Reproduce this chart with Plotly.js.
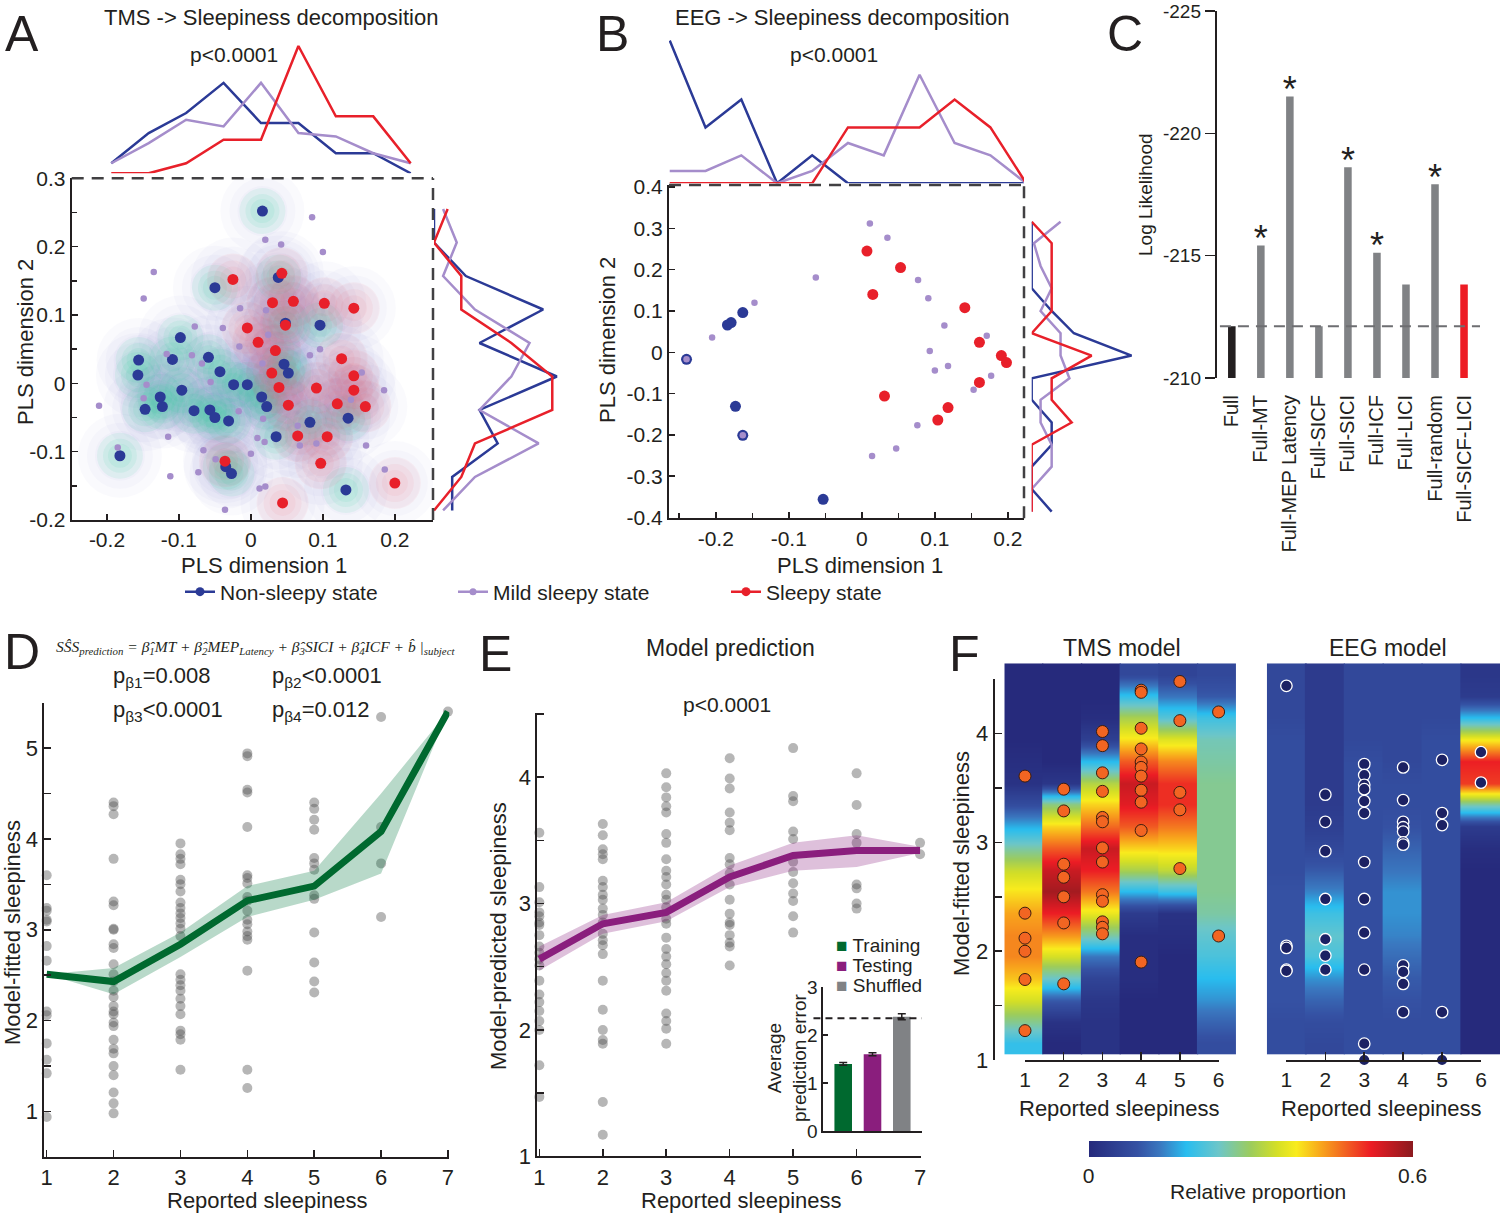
<!DOCTYPE html>
<html><head><meta charset="utf-8">
<script src="https://cdn.plot.ly/plotly-3.0.1.min.js"></script>
<style>html,body{margin:0;padding:0;background:#fff}#plot{width:1500px;height:1213px}</style>
</head><body><div id="plot"></div>
<script>
// ================= DATA =================
// Panel A: TMS PLS decomposition (dimension 1, dimension 2)
const aBlueX = [0.016,0.038,-0.050,-0.098,-0.156,-0.157,-0.109,-0.059,-0.043,-0.147,-0.123,-0.126,-0.096,-0.079,-0.057,-0.050,-0.031,-0.024,-0.005,0.015,0.022,0.048,0.096,0.046,0.052,0.035,0.082,0.135,-0.182,-0.035,-0.027,0.132];
const aBlueY = [0.252,0.155,0.140,0.067,0.034,0.012,0.035,0.038,0.017,-0.038,-0.034,-0.020,-0.010,-0.040,-0.039,-0.050,-0.055,-0.002,-0.002,-0.020,-0.034,0.088,0.085,0.028,0.015,-0.078,-0.057,-0.051,-0.106,-0.122,-0.132,-0.156];
const aRedX = [-0.025,0.043,0.030,0.059,0.102,0.143,-0.005,0.048,0.010,0.034,0.126,0.143,0.029,0.039,0.091,0.143,0.120,0.159,0.052,0.065,0.106,-0.036,0.097,0.200,0.044];
const aRedY = [0.152,0.161,0.118,0.120,0.117,0.110,0.081,0.085,0.060,0.048,0.036,0.011,0.015,-0.006,-0.007,-0.010,-0.030,-0.034,-0.032,-0.077,-0.078,-0.114,-0.117,-0.146,-0.175];
const aMildX = [0.085,0.020,0.042,0.100,-0.135,-0.149,-0.015,0.021,-0.078,-0.039,0.024,-0.016,0.096,0.082,-0.117,-0.082,-0.068,0.016,0.154,-0.056,-0.145,-0.149,0.185,0.139,-0.211,-0.017,0.017,0.065,-0.115,0.009,0.019,0.091,0.068,0.160,-0.185,-0.066,0.000,-0.049,-0.073,-0.112,0.186,0.012,0.020,-0.036];
const aMildY = [0.243,0.210,0.203,0.192,0.163,0.124,0.110,0.107,0.083,0.081,0.071,0.054,0.050,0.041,0.043,0.041,0.029,0.029,0.016,0.002,-0.002,-0.022,-0.010,-0.024,-0.033,-0.041,-0.052,-0.062,-0.078,-0.080,-0.086,-0.088,-0.091,-0.091,-0.094,-0.098,-0.103,-0.111,-0.130,-0.136,-0.126,-0.154,-0.151,-0.185];
// Panel A marginal distributions (proportions)
const aTopBins = [-0.194,-0.142,-0.090,-0.038,0.014,0.066,0.118,0.170,0.222];
const aTopBlue = [0.03,0.12,0.18,0.27,0.15,0.15,0.06,0.06,0.00];
const aTopMild = [0.03,0.09,0.16,0.14,0.27,0.12,0.11,0.06,0.03];
const aTopSleepy = [0.00,0.00,0.03,0.10,0.10,0.38,0.17,0.17,0.03];
const aRightBins = [0.255,0.206,0.157,0.108,0.059,0.010,-0.039,-0.088,-0.137,-0.186];
const aRightBlue = [0.00,0.00,0.07,0.24,0.10,0.27,0.10,0.14,0.04,0.04];
const aRightMild = [0.02,0.05,0.02,0.09,0.21,0.17,0.10,0.23,0.09,0.02];
const aRightSleepy = [0.03,0.00,0.06,0.06,0.17,0.26,0.26,0.09,0.06,0.00];

// Panel B: EEG PLS decomposition
const bBlueX = [-0.240,-0.184,-0.179,-0.163,-0.173,-0.163,-0.053];
const bBlueY = [-0.017,0.066,0.072,0.096,-0.131,-0.201,-0.356];
const bRedX = [0.007,0.053,0.015,0.141,0.161,0.191,0.198,0.161,0.031,0.118,0.104];
const bRedY = [0.245,0.205,0.140,0.108,0.024,-0.008,-0.025,-0.073,-0.106,-0.134,-0.164];
const bMildX = [0.011,0.035,-0.063,0.077,0.091,-0.147,-0.205,0.113,0.171,0.093,0.100,0.118,0.177,0.153,0.076,0.047,0.014,-0.240,-0.163];
const bMildY = [0.312,0.277,0.181,0.175,0.131,0.120,0.036,0.065,0.040,0.003,-0.044,-0.033,-0.057,-0.091,-0.177,-0.233,-0.251,-0.017,-0.201];
const bTopBins = [-0.263,-0.214,-0.165,-0.116,-0.068,-0.019,0.030,0.079,0.127,0.176,0.225];
const bTopBlue = [0.46,0.18,0.27,0,0.09,0,0,0,0,0,0];
const bTopMild = [0.04,0.04,0.09,0,0.04,0.13,0.09,0.35,0.13,0.09,0];
const bTopSleepy = [0,0,0,0,0,0.18,0.18,0.18,0.27,0.18,0];
const bRightBins = [0.316,0.264,0.209,0.155,0.100,0.046,-0.008,-0.063,-0.115,-0.170,-0.224,-0.277,-0.331,-0.386];
const bRightBlue = [0,0,0,0,0.09,0.19,0.45,0,0,0.09,0.09,0,0,0.09];
const bRightMild = [0.13,0.01,0.04,0.09,0.04,0.13,0.13,0.17,0.04,0.04,0.09,0.09,0,0];
const bRightSleepy = [0,0.09,0.09,0.09,0.09,0,0.27,0.09,0.09,0.18,0,0,0,0];
const plsTickVals = [-0.4,-0.3,-0.2,-0.1,0,0.1,0.2,0.3,0.4];
const plsTickText = ['-0.4','-0.3','-0.2','-0.1','0','0.1','0.2','0.3','0.4'];
const legendNames = ['Non-sleepy state','Mild sleepy state','Sleepy state'];

// Panel C: model comparison
const cLabels = ['Full','Full-MT','Full-MEP Latency','Full-SICF','Full-SICI','Full-ICF','Full-LICI','Full-random','Full-SICF-LICI'];
const cLogLik = [-212.12,-215.42,-221.51,-212.12,-218.61,-215.12,-213.82,-217.92,-213.82];
const cSignificant = [false,true,true,false,true,true,false,true,false];
const cTickVals = [-225,-220,-215,-210];
const cTickText = ['-225','-220','-215','-210'];

// Panel D: model-fitted sleepiness per reported level
const dLevels = [1,2,3,4,5,6,7];
const dFitted = [
 [3.60,3.24,3.21,3.11,3.09,2.82,2.66,2.10,2.06,1.75,1.57,1.42,0.94],
 [4.40,4.36,4.27,3.78,3.31,3.27,3.01,3.00,2.84,2.80,2.62,2.51,2.43,2.33,2.26,2.16,2.10,2.07,1.98,1.94,1.79,1.69,1.64,1.50,1.40,1.21,1.09,0.98],
 [3.95,3.83,3.78,3.72,3.55,3.50,3.42,3.30,3.24,3.18,3.13,3.07,3.01,2.93,2.51,2.45,2.39,2.33,2.24,2.16,2.07,1.89,1.85,1.79,1.46],
 [4.94,4.91,4.54,4.51,4.13,3.60,3.57,3.51,3.36,3.32,3.21,3.11,3.06,2.98,2.93,2.89,2.55,1.46,1.26],
 [4.40,4.33,4.21,4.10,3.79,3.73,3.66,3.38,3.34,2.97,2.64,2.43,2.31],
 [5.34,4.13,3.73,3.14],
 [5.40]
];
const dMean = [2.51,2.43,2.84,3.32,3.48,4.08,5.40];
const dLow  = [2.51,2.29,2.70,3.14,3.33,3.62,5.40];
const dHigh = [2.51,2.58,2.97,3.48,3.65,4.50,5.40];

// Panel E: model-predicted sleepiness
const ePredicted = [
 [3.56,3.13,3.01,2.93,2.90,2.85,2.83,2.75,2.66,2.61,2.56,2.51,2.39,2.28,2.22,2.15,2.07,2.00,1.72,1.47],
 [3.63,3.54,3.43,3.39,3.35,3.18,3.13,3.07,3.03,2.96,2.91,2.85,2.76,2.71,2.67,2.60,2.39,2.16,2.00,1.92,1.89,1.43,1.17],
 [4.03,3.92,3.84,3.77,3.72,3.55,3.48,3.35,3.26,3.21,3.15,3.07,3.03,2.97,2.88,2.84,2.73,2.64,2.58,2.52,2.45,2.39,2.31,2.13,2.07,2.01,1.89],
 [4.15,3.99,3.91,3.72,3.64,3.58,3.36,3.31,3.24,3.15,3.03,2.92,2.85,2.83,2.75,2.69,2.66,2.51],
 [4.52,4.23,3.85,3.81,3.57,3.51,3.33,3.25,3.16,3.08,3.02,2.90,2.77],
 [4.03,3.78,3.55,3.48,3.15,3.12,3.00,2.96],
 [3.48,3.39]
];
const eMean = [2.56,2.84,2.93,3.21,3.38,3.42,3.42];
const eLow  = [2.47,2.76,2.86,3.13,3.26,3.29,3.40];
const eHigh = [2.66,2.91,3.01,3.30,3.48,3.54,3.45];
const insetNames = ['Training','Testing','Shuffled'];
const insetError = [1.40,1.60,2.38];
const insetSem = [0.03,0.03,0.06];
const insetChance = 2.35;

// Panel F: heatmaps (relative proportion), rows top->bottom
const fLevels = [1,2,3,4,5,6];
const fBinY = [4.55,4.35,4.15,3.95,3.75,3.55,3.35,3.15,2.95,2.75,2.55,2.35,2.15,1.95,1.75,1.55,1.35,1.15];
const fTmsCols = [
 [0,0,0,0,0.01,0.02,0.08,0.17,0.26,0.34,0.39,0.43,0.45,0.45,0.41,0.35,0.27,0.19],
 [0,0,0,0,0,0.03,0.28,0.40,0.48,0.55,0.58,0.52,0.44,0.35,0.24,0.10,0.02,0],
 [0,0,0.01,0.05,0.18,0.32,0.40,0.47,0.55,0.52,0.46,0.37,0.26,0.13,0.06,0.03,0.02,0.02],
 [0.07,0.19,0.31,0.39,0.48,0.55,0.53,0.48,0.40,0.31,0.18,0.04,0.01,0.01,0.01,0,0,0],
 [0.06,0.13,0.22,0.36,0.45,0.51,0.51,0.46,0.40,0.33,0.20,0.02,0.01,0,0,0,0,0],
 [0.07,0.10,0.20,0.25,0.26,0.27,0.27,0.27,0.27,0.27,0.27,0.26,0.23,0.21,0.18,0.15,0.11,0.08]
];
const fEegCols = [
 [0.07,0.07,0.07,0.08,0.08,0.08,0.08,0.08,0.08,0.08,0.09,0.09,0.09,0.09,0.09,0.09,0.08,0.08],
 [0.04,0.04,0.04,0.04,0.04,0.04,0.04,0.05,0.07,0.10,0.14,0.20,0.23,0.21,0.15,0.11,0.08,0.07],
 [0.07,0.07,0.07,0.07,0.08,0.08,0.08,0.08,0.08,0.08,0.08,0.08,0.08,0.08,0.08,0.08,0.08,0.08],
 [0.07,0.07,0.07,0.07,0.07,0.08,0.08,0.09,0.11,0.13,0.15,0.15,0.14,0.12,0.10,0.09,0.08,0.08],
 [0.07,0.07,0.07,0.08,0.08,0.08,0.08,0.08,0.08,0.08,0.08,0.08,0.08,0.08,0.08,0.08,0.08,0.08],
 [0.03,0.04,0.18,0.38,0.52,0.50,0.26,0.04,0.01,0,0,0,0,0,0,0,0,0]
];
const fTmsPts = [
 [3.61,2.35,2.12,2.00,1.74,1.27],
 [3.49,3.29,2.80,2.68,2.50,2.26,1.70],
 [4.02,3.89,3.64,3.47,3.23,3.19,2.95,2.82,2.52,2.46,2.27,2.22,2.16],
 [4.40,4.38,4.05,3.86,3.74,3.69,3.61,3.48,3.37,3.11,1.90],
 [4.48,4.12,3.46,3.30,2.76],
 [4.20,2.14]
];
const fEegPts = [
 [4.44,2.05,2.03,1.83,1.82],
 [3.44,3.19,2.92,2.48,2.11,1.96,1.83],
 [3.72,3.62,3.53,3.49,3.38,3.27,2.82,2.48,2.17,1.83,1.15,1.00],
 [3.69,3.39,3.19,3.14,3.10,3.00,2.98,1.87,1.81,1.70,1.44],
 [3.76,3.27,3.16,1.44,1.00],
 [3.83,3.55]
];

// ================= STYLE / HELPERS =================
const W=1500, H=1213;
const X=p=>p/W, Y=p=>1-p/H;
const FONT='Liberation Sans, Arial, sans-serif';
const INK='#231f20';
const BLUE='#2b3a96', MILD='#a58dcb', RED='#e8202a';
const GREEN='#00692f', PURP='#8a1e7d', GRAY='#808285';

function hidden(extra){return Object.assign({visible:false,showgrid:false,zeroline:false,fixedrange:true},extra);}
function lineAxis(extra){return Object.assign({showline:true,linecolor:INK,linewidth:2,ticks:'inside',ticklen:6,tickwidth:1.5,tickcolor:INK,showgrid:false,zeroline:false,fixedrange:true,tickfont:{family:FONT,size:21,color:INK}},extra);}
const flatX=(groups,levels)=>groups.flatMap((g,i)=>g.map(()=>levels[i]));
const flatY=groups=>groups.flat();

const traces=[];
// ---- A: density haze built from the points themselves ----
const allAX=aBlueX.concat(aRedX), allAY=aBlueY.concat(aRedY);
[84,66,50].forEach(s=>traces.push({x:allAX,y:allAY,xaxis:'x',yaxis:'y',mode:'markers',marker:{size:s,color:'rgba(130,135,195,0.04)'},hoverinfo:'skip',showlegend:false}));
[46,34,24].forEach(s=>traces.push({x:aBlueX,y:aBlueY,xaxis:'x',yaxis:'y',mode:'markers',marker:{size:s,color:'rgba(40,205,150,0.085)'},hoverinfo:'skip',showlegend:false}));
[52,38,26].forEach(s=>traces.push({x:aRedX,y:aRedY,xaxis:'x',yaxis:'y',mode:'markers',marker:{size:s,color:'rgba(240,90,110,0.065)'},hoverinfo:'skip',showlegend:false}));
traces.push({x:aBlueX,y:aBlueY,xaxis:'x',yaxis:'y',mode:'markers',marker:{size:11,color:BLUE},showlegend:false});
traces.push({x:aRedX,y:aRedY,xaxis:'x',yaxis:'y',mode:'markers',marker:{size:11,color:RED},showlegend:false});
traces.push({x:aMildX,y:aMildY,xaxis:'x',yaxis:'y',mode:'markers',marker:{size:6.5,color:MILD},showlegend:false});
[[aTopBlue,BLUE],[aTopMild,MILD],[aTopSleepy,RED]].forEach(([v,c])=>traces.push({x:aTopBins,y:v,xaxis:'x2',yaxis:'y2',mode:'lines',line:{color:c,width:2.5},showlegend:false,cliponaxis:false}));
[[aRightBlue,BLUE],[aRightMild,MILD],[aRightSleepy,RED]].forEach(([v,c])=>traces.push({x:v,y:aRightBins,xaxis:'x3',yaxis:'y3',mode:'lines',line:{color:c,width:2.5},showlegend:false,cliponaxis:false}));
// ---- B ----
traces.push({x:bBlueX,y:bBlueY,xaxis:'x4',yaxis:'y4',mode:'markers',marker:{size:11,color:BLUE},showlegend:false,cliponaxis:false});
traces.push({x:bRedX,y:bRedY,xaxis:'x4',yaxis:'y4',mode:'markers',marker:{size:11,color:RED},showlegend:false,cliponaxis:false});
traces.push({x:bMildX,y:bMildY,xaxis:'x4',yaxis:'y4',mode:'markers',marker:{size:6.5,color:MILD},showlegend:false});
[[bTopBlue,BLUE],[bTopMild,MILD],[bTopSleepy,RED]].forEach(([v,c])=>traces.push({x:bTopBins,y:v,xaxis:'x5',yaxis:'y5',mode:'lines',line:{color:c,width:2.5},showlegend:false,cliponaxis:false}));
[[bRightBlue,BLUE],[bRightMild,MILD],[bRightSleepy,RED]].forEach(([v,c])=>traces.push({x:v,y:bRightBins,xaxis:'x6',yaxis:'y6',mode:'lines',line:{color:c,width:2.5},showlegend:false,cliponaxis:false}));
// legend entries
[[BLUE,9],[MILD,7],[RED,9]].forEach(([c,s],i)=>traces.push({x:[null],y:[null],xaxis:'x',yaxis:'y',mode:'lines+markers',name:legendNames[i],line:{color:c,width:2.5},marker:{color:c,size:s},showlegend:true}));
// ---- C ----
traces.push({type:'bar',x:cLabels,y:cLogLik,xaxis:'x7',yaxis:'y7',width:0.26,marker:{color:cLabels.map((_,i)=>i===0?INK:(i===cLabels.length-1?'#ed1c24':GRAY))},showlegend:false});
traces.push({x:cLabels.filter((_,i)=>cSignificant[i]),y:cLogLik.filter((_,i)=>cSignificant[i]).map(v=>v+0.6),xaxis:'x7',yaxis:'y7',mode:'text',text:cLabels.filter((_,i)=>cSignificant[i]).map(()=>'*'),textposition:'top center',textfont:{family:FONT,size:36,color:INK},showlegend:false,cliponaxis:false});
// ---- D ----
traces.push({x:flatX(dFitted,dLevels),y:flatY(dFitted),xaxis:'x8',yaxis:'y8',mode:'markers',marker:{size:10,color:'rgba(80,80,80,0.42)'},showlegend:false,cliponaxis:false});
traces.push({x:dLevels,y:dLow,xaxis:'x8',yaxis:'y8',mode:'lines',line:{width:0,color:'rgba(0,0,0,0)'},showlegend:false});
traces.push({x:dLevels,y:dHigh,xaxis:'x8',yaxis:'y8',mode:'lines',line:{width:0,color:'rgba(0,0,0,0)'},fill:'tonexty',fillcolor:'rgba(0,120,60,0.28)',showlegend:false});
traces.push({x:dLevels,y:dMean,xaxis:'x8',yaxis:'y8',mode:'lines',line:{width:7,color:GREEN},showlegend:false,cliponaxis:false});
// ---- E ----
traces.push({x:flatX(ePredicted,dLevels),y:flatY(ePredicted),xaxis:'x9',yaxis:'y9',mode:'markers',marker:{size:10,color:'rgba(80,80,80,0.42)'},showlegend:false,cliponaxis:false});
traces.push({x:dLevels,y:eLow,xaxis:'x9',yaxis:'y9',mode:'lines',line:{width:0,color:'rgba(0,0,0,0)'},showlegend:false});
traces.push({x:dLevels,y:eHigh,xaxis:'x9',yaxis:'y9',mode:'lines',line:{width:0,color:'rgba(0,0,0,0)'},fill:'tonexty',fillcolor:'rgba(138,30,125,0.28)',showlegend:false});
traces.push({x:dLevels,y:eMean,xaxis:'x9',yaxis:'y9',mode:'lines',line:{width:7,color:PURP},showlegend:false,cliponaxis:false});
const insetColors=[GREEN,PURP,GRAY];
insetNames.forEach((n,i)=>traces.push({type:'bar',x:[i],y:[insetError[i]],name:n,xaxis:'x10',yaxis:'y10',width:0.6,marker:{color:insetColors[i]},error_y:{type:'data',array:[insetSem[i]],color:INK,thickness:1.5,width:4},showlegend:false}));
// ---- F : one smoothed column heatmap per reported level (slight overlap hides seams) ----
const heatScale=[[0,'#262a7c'],[0.15,'#3551a3'],[0.22,'#3a78c0'],[0.30,'#29bdef'],[0.40,'#6cc6c9'],[0.50,'#9dcc5b'],[0.58,'#d4df26'],[0.64,'#f9ec1d'],[0.72,'#f8a21c'],[0.80,'#f15a22'],[0.87,'#ec1c24'],[1,'#8b1a1f']];
const yAsc=fBinY.slice().reverse();
function columnHeat(col,lvl,xa,ya,withBar){
  const t={type:'heatmap',x:[lvl-0.26,lvl+0.26],y:yAsc,z:col.slice().reverse().map(v=>[v,v]),xaxis:xa,yaxis:ya,zmin:0,zmax:0.6,colorscale:heatScale,zsmooth:'best',showscale:!!withBar,hoverinfo:'skip'};
  if(withBar) t.colorbar={orientation:'h',x:X(1250.5),xanchor:'center',y:Y(1180),yanchor:'bottom',len:324/W,lenmode:'fraction',thickness:15.5,thicknessmode:'pixels',xpad:0,ypad:0,outlinewidth:0,tickvals:[0,0.6],ticktext:['0','0.6'],ticks:'',tickfont:{family:FONT,size:21,color:INK}};
  return t;
}
fTmsCols.forEach((c,i)=>traces.push(columnHeat(c,fLevels[i],'x11','y11',i===0)));
fEegCols.forEach((c,i)=>traces.push(columnHeat(c,fLevels[i],'x12','y12',false)));
traces.push({x:flatX(fTmsPts,fLevels),y:flatY(fTmsPts),xaxis:'x13',yaxis:'y13',mode:'markers',marker:{size:12,color:'#f26522',line:{color:'#3b1d10',width:1}},showlegend:false,cliponaxis:false});
traces.push({x:flatX(fEegPts,fLevels),y:flatY(fEegPts),xaxis:'x14',yaxis:'y14',mode:'markers',marker:{size:11.5,color:'#1c2163',line:{color:'#ffffff',width:1.3}},showlegend:false,cliponaxis:false});

// ================= LAYOUT =================
const ann=(px,py,text,size,opts)=>Object.assign({xref:'paper',yref:'paper',x:X(px),y:Y(py),text:text,showarrow:false,font:{family:FONT,size:size,color:INK},xanchor:'center',yanchor:'middle'},opts||{});
const sq=(c,t)=>'<span style="color:'+c+'">■</span> '+t;
const annotations=[
 ann(22,34,'A',50), ann(612,34,'B',50), ann(1125,34,'C',50), ann(22,652,'D',50), ann(495,654,'E',50), ann(964,654,'F',50),
 ann(271,17,'TMS -&gt; Sleepiness decomposition',22), ann(842,17,'EEG -&gt; Sleepiness decomposition',22),
 ann(234,55,'p&lt;0.0001',21), ann(834,55,'p&lt;0.0001',21),
 ann(264,565,'PLS dimension 1',22), ann(860,565,'PLS dimension 1',22),
 ann(25,342,'PLS dimension 2',22,{textangle:-90}), ann(607,340,'PLS dimension 2',22,{textangle:-90}),
 ann(1146,195,'Log Likelihood',19,{textangle:-90}),
 ann(255,647,'<i>SŜS<sub>prediction</sub> = β̂<sub>1</sub>MT + β̂<sub>2</sub>MEP<sub>Latency</sub> + β̂<sub>3</sub>SICI + β̂<sub>4</sub>ICF + b̂ |<sub>subject</sub></i>',15,{font:{family:'Liberation Serif, Times New Roman, serif',size:15.5,color:INK}}),
 ann(111,677,'p<sub>β1</sub>=0.008',22,{xanchor:'left'}), ann(270,677,'p<sub>β2</sub>&lt;0.0001',22,{xanchor:'left'}),
 ann(111,711,'p<sub>β3</sub>&lt;0.0001',22,{xanchor:'left'}), ann(270,711,'p<sub>β4</sub>=0.012',22,{xanchor:'left'}),
 ann(12,933,'Model-fitted sleepiness',22,{textangle:-90}), ann(267,1200,'Reported sleepiness',22),
 ann(730,648,'Model prediction',23), ann(727,704,'p&lt;0.0001',21),
 ann(498,936,'Model-predicted sleepiness',22,{textangle:-90}), ann(741,1200,'Reported sleepiness',22),
 ann(787,1058,'Average<br>prediction error',19,{textangle:-90}),
 ann(834,945,sq(GREEN,insetNames[0]),19,{xanchor:'left'}),
 ann(834,965,sq(PURP,insetNames[1]),19,{xanchor:'left'}),
 ann(834,985,sq(GRAY,insetNames[2]),19,{xanchor:'left'}),
 ann(1122,648,'TMS model',23), ann(1388,648,'EEG model',23),
 ann(961,864,'Model-fitted sleepiness',22,{textangle:-90}),
 ann(1119,1108,'Reported sleepiness',22), ann(1381,1108,'Reported sleepiness',22),
 ann(1258,1191,'Relative proportion',21)
];
const dash={color:'#414042',width:2.5,dash:'12px,8px'};
const shapes=[
 {type:'line',xref:'x domain',yref:'y domain',x0:0,x1:1,y0:1,y1:1,line:dash},
 {type:'line',xref:'x domain',yref:'y domain',x0:1,x1:1,y0:0,y1:1,line:dash},
 {type:'line',xref:'x4 domain',yref:'y4 domain',x0:0,x1:1,y0:1,y1:1,line:dash},
 {type:'line',xref:'x4 domain',yref:'y4 domain',x0:1,x1:1,y0:0,y1:1,line:dash},
 {type:'line',xref:'x7 domain',yref:'y7',x0:0.01,x1:1,y0:cLogLik[0],y1:cLogLik[0],line:{color:'#6d6e71',width:2,dash:'11px,7px'}},
 {type:'line',xref:'x10 domain',yref:'y10',x0:-0.1,x1:1,y0:insetChance,y1:insetChance,line:{color:INK,width:2,dash:'7px,5px'}}
];
const tf=s=>({family:FONT,size:s,color:INK});
const layout={
 width:W,height:H,margin:{l:0,r:0,t:0,b:0},paper_bgcolor:'#ffffff',plot_bgcolor:'rgba(0,0,0,0)',
 font:{family:FONT,color:INK},barmode:'overlay',showlegend:true,
 xaxis:lineAxis({domain:[X(71.7),X(433)],range:[-0.249,0.253],anchor:'y',tickvals:plsTickVals,ticktext:plsTickText}),
 yaxis:lineAxis({domain:[Y(520),Y(178.3)],range:[-0.2,0.3],anchor:'x',tickvals:plsTickVals,ticktext:plsTickText,minor:{dtick:0.05,tick0:0,ticks:'inside',ticklen:5,tickcolor:INK}}),
 xaxis2:hidden({domain:[X(71.7),X(433)],range:[-0.249,0.253],anchor:'y2'}),
 yaxis2:hidden({domain:[Y(173.3),Y(40)],range:[0,0.398],anchor:'x2'}),
 xaxis3:hidden({domain:[X(434),X(560)],range:[0,0.277],anchor:'y3'}),
 yaxis3:hidden({domain:[Y(520),Y(178.3)],range:[-0.2,0.3],anchor:'x3'}),
 xaxis4:lineAxis({domain:[X(669),X(1024)],range:[-0.264,0.222],anchor:'y4',tickvals:plsTickVals,ticktext:plsTickText,minor:{dtick:0.05,tick0:0,ticks:'inside',ticklen:5,tickcolor:INK}}),
 yaxis4:lineAxis({domain:[Y(518.3),Y(185)],range:[-0.402,0.405],anchor:'x4',tickvals:plsTickVals,ticktext:plsTickText}),
 xaxis5:hidden({domain:[X(669),X(1024)],range:[-0.264,0.222],anchor:'y5'}),
 yaxis5:hidden({domain:[Y(183.3),Y(35)],range:[0,0.478],anchor:'x5'}),
 xaxis6:hidden({domain:[X(1031.7),X(1140)],range:[0,0.488],anchor:'y6'}),
 yaxis6:hidden({domain:[Y(518.3),Y(185)],range:[-0.402,0.405],anchor:'x6'}),
 xaxis7:{domain:[X(1217.3),X(1480)],range:[-0.5,8.55],anchor:'y7',type:'category',showline:false,ticks:'',showgrid:false,zeroline:false,tickangle:-90,tickfont:tf(20),ticklabelstandoff:12,fixedrange:true},
 yaxis7:lineAxis({domain:[Y(378),Y(11)],range:[-210,-225],anchor:'x7',ticks:'outside',ticklen:10,tickvals:cTickVals,ticktext:cTickText,tickfont:tf(19),linewidth:2.5}),
 xaxis8:lineAxis({domain:[X(44.3),X(449.3)],range:[0.964,7.02],anchor:'y8',tickvals:dLevels,tickfont:tf(22),ticklen:7}),
 yaxis8:lineAxis({domain:[Y(1157),Y(702.5)],range:[0.5,5.5],anchor:'x8',tickvals:[1,2,3,4,5],tickfont:tf(22),ticklen:7,minor:{dtick:0.5,tick0:0,ticks:'inside',ticklen:7,tickcolor:INK}}),
 xaxis9:lineAxis({domain:[X(537.3),X(920.7)],range:[0.968,7.01],anchor:'y9',tickvals:dLevels,tickfont:tf(22),ticklen:7}),
 yaxis9:lineAxis({domain:[Y(1156.3),Y(712.7)],range:[1,4.51],anchor:'x9',tickvals:[1,2,3,4],tickfont:tf(22),ticklen:7,minor:{dtick:0.5,tick0:0,ticks:'inside',ticklen:7,tickcolor:INK}}),
 xaxis10:{domain:[X(823.3),X(921.7)],range:[-0.68,2.68],anchor:'y10',showline:true,linecolor:INK,linewidth:2,ticks:'',showticklabels:false,showgrid:false,zeroline:false,fixedrange:true},
 yaxis10:lineAxis({domain:[Y(1131.3),Y(986.9)],range:[0,3],anchor:'x10',tickvals:[0,1,2,3],tickfont:tf(19),ticklen:5}),
 xaxis11:hidden({domain:[X(1004.3),X(1236.4)],range:[0.5,6.5],anchor:'y11'}),
 yaxis11:hidden({domain:[Y(1060),Y(663.3)],range:[1.0,4.65],anchor:'x11'}),
 xaxis12:hidden({domain:[X(1266.8),X(1500)],range:[0.5,6.5],anchor:'y12'}),
 yaxis12:hidden({domain:[Y(1060),Y(663.3)],range:[1.0,4.65],anchor:'x12'}),
 xaxis13:lineAxis({domain:[X(1025),X(1218.6)],range:[1,6],anchor:'y13',tickvals:fLevels,tickfont:tf(21),ticklen:8}),
 yaxis13:lineAxis({domain:[Y(1060),Y(679.3)],range:[1,4.5],anchor:'free',position:X(993.6),tickvals:[1,2,3,4],tickfont:tf(22),ticklen:7,minor:{dtick:0.5,tick0:0,ticks:'inside',ticklen:7,tickcolor:INK}}),
 xaxis14:lineAxis({domain:[X(1286.4),X(1481)],range:[1,6],anchor:'y14',tickvals:fLevels,tickfont:tf(21),ticklen:8}),
 yaxis14:hidden({domain:[Y(1060),Y(679.3)],range:[1,4.5],anchor:'x14'}),
 legend:{x:X(180),y:Y(592),xanchor:'left',yanchor:'middle',orientation:'h',traceorder:'normal',font:tf(21),entrywidth:228,entrywidthmode:'pixels',bgcolor:'rgba(0,0,0,0)',itemwidth:30},
 annotations:annotations, shapes:shapes
};
Plotly.newPlot('plot',traces,layout,{staticPlot:true,displayModeBar:false});
</script>
</body></html>
